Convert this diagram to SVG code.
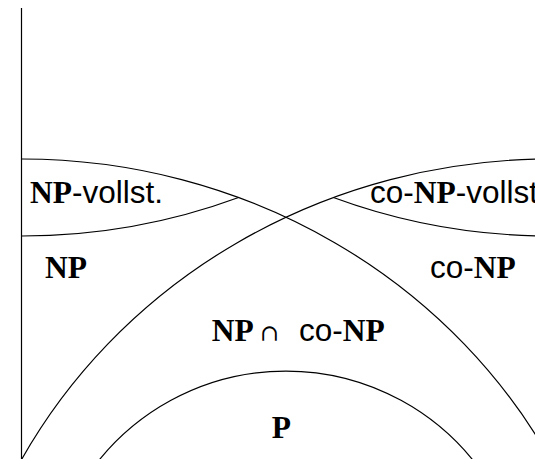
<svg xmlns="http://www.w3.org/2000/svg" width="535" height="459" viewBox="0 0 535 459">
<style>
.ln{fill:none;stroke:#000;stroke-width:1.2}
.sf{font-family:"Liberation Serif","Times New Roman",serif;font-weight:bold;font-size:31.5px}
.ss{font-family:"Liberation Sans",Arial,sans-serif;font-size:31.5px}
.sym{font-family:"DejaVu Serif","Liberation Serif",serif;font-size:23px}
text{fill:#000}
</style>
<rect width="535" height="459" fill="#fff"/>
<g id="lines">
<path class="ln" d="M21.5 8 V459"/>
<path class="ln" d="M22 159 A600 571 0 0 1 556.2 470"/>
<path class="ln" d="M550 159 A600 571 0 0 0 15.8 470"/>
<path class="ln" d="M22 236 A600 571 0 0 0 238.6 197.5"/>
<path class="ln" d="M550 236 A600 571 0 0 1 333.4 197.5"/>
<path class="ln" d="M91.5 470 A240.6 240.6 0 0 1 480.5 470"/>
</g>
<g id="np-complete"><text y="203.3"><tspan class="sf" x="30">NP</tspan><tspan class="ss">-vollst.</tspan></text></g>
<g id="conp-complete"><text y="203.3"><tspan class="ss" x="370">co-</tspan><tspan class="sf">NP</tspan><tspan class="ss">-vollst.</tspan></text></g>
<g id="np"><text class="sf" x="45" y="278.3">NP</text></g>
<g id="conp"><text y="278.3"><tspan class="ss" x="430">co-</tspan><tspan class="sf">NP</tspan></text></g>
<g id="np-cap-conp"><text y="340.7"><tspan class="sf" x="211.7">NP</tspan><tspan class="sym" x="260">∩</tspan><tspan class="ss" x="299">co-</tspan><tspan class="sf">NP</tspan></text></g>
<g id="p"><text class="sf" x="271.7" y="438.3">P</text></g>
</svg>
